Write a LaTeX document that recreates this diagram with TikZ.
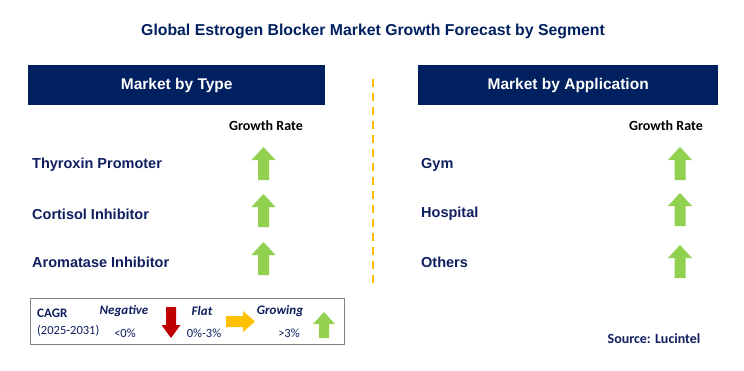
\documentclass[tikz,border=0pt]{standalone}
\usepackage{fontspec}
\setmainfont{Liberation Sans}
\newfontfamily\calib{Carlito}
\definecolor{navy}{HTML}{002060}
\definecolor{txtnavy}{HTML}{0F1F5F}
\definecolor{grn}{HTML}{92D050}
\definecolor{redarr}{HTML}{C00000}
\definecolor{yel}{HTML}{FFC000}
\definecolor{bordergray}{HTML}{808080}
% up arrow: color, cx, top, bottom, half head, half shaft, head length
\newcommand\arrUp[7]{\fill[#1] (#2-#6,#4) -- (#2-#6,#3+#7) -- (#2-#5,#3+#7) -- (#2,#3) -- (#2+#5,#3+#7) -- (#2+#6,#3+#7) -- (#2+#6,#4) -- cycle;}
\newcommand\arrDown[7]{\fill[#1] (#2-#6,#3) -- (#2+#6,#3) -- (#2+#6,#4-#7) -- (#2+#5,#4-#7) -- (#2,#4) -- (#2-#5,#4-#7) -- (#2-#6,#4-#7) -- cycle;}
% right arrow: color, left, right, cy, half head, half shaft, head length
\newcommand\arrRight[7]{\fill[#1] (#2,#4-#6) -- (#3-#7,#4-#6) -- (#3-#7,#4-#5) -- (#3,#4) -- (#3-#7,#4+#5) -- (#3-#7,#4+#6) -- (#2,#4+#6) -- cycle;}
\begin{document}
\begin{tikzpicture}[x=1pt,y=-1pt,
 hdr/.style={fill=navy, text=white, font=\fontsize{15.5}{18}\selectfont\bfseries, minimum width=297pt, minimum height=40pt, inner sep=0pt, anchor=north west},
 item/.style={anchor=west, text=txtnavy, font=\fontsize{14.5}{17}\selectfont\bfseries, inner sep=0pt},
 grate/.style={font=\calib\fontsize{14}{17}\selectfont\bfseries, text=black, inner sep=0pt},
 lgb/.style={font=\calib\fontsize{13}{15}\selectfont\bfseries, text=txtnavy, inner sep=0pt},
 lgbi/.style={font=\calib\fontsize{13}{15}\selectfont\bfseries\itshape, text=txtnavy, inner sep=0pt},
 lgr/.style={font=\calib\fontsize{12.5}{15}\selectfont, text=txtnavy, inner sep=0pt}
]
\useasboundingbox (0,0) rectangle (744,370);
\fill[white] (0,0) rectangle (744,370);

\node[text=navy, font=\fontsize{15.8}{18}\selectfont\bfseries, inner sep=0pt] (title) at (373,31.5) {Global Estrogen Blocker Market Growth Forecast by Segment};

\node[hdr] (h1) at (28,65) {Market by Type};
\node[hdr, minimum width=300pt] (h2) at (418,65) {Market by Application};

\draw[yel, line width=2pt, dash pattern=on 8pt off 6pt] (373,79) -- (373,284);

\node[grate] (g1) at (266,126) {Growth Rate};
\node[grate] (g2) at (666,126) {Growth Rate};

\node[item] (t1) at (32,165) {Thyroxin Promoter};
\node[item] (t2) at (32,214) {Cortisol Inhibitor};
\node[item] (t3) at (32,262) {Aromatase Inhibitor};
\node[item] (a1) at (421,165) {Gym};
\node[item] (a2) at (421,214) {Hospital};
\node[item] (a3) at (421,262) {Others};

\arrUp{grn}{263.5}{147}{180}{12}{5.5}{13}
\arrUp{grn}{263.5}{194}{227}{12}{5.5}{13}
\arrUp{grn}{263.5}{242}{275}{12}{5.5}{13}
\arrUp{grn}{680}{147}{180}{12}{5.5}{13}
\arrUp{grn}{680}{193}{226}{12}{5.5}{13}
\arrUp{grn}{680}{245}{278}{12}{5.5}{13}

% legend
\draw[bordergray, line width=1pt] (30,298) rectangle (344,344);
\node[lgb, anchor=west] (cagr) at (37,313) {CAGR};
\node[lgr, anchor=west] (yrs) at (37,331) {(2025-2031)};
\node[lgbi] (neg) at (124,311) {Negative};
\node[lgr] (negv) at (125,333) {<0\%};
\arrDown{redarr}{171}{307}{338}{9.5}{5}{13}
\node[lgbi] (flat) at (202,311) {Flat};
\node[lgr] (flatv) at (204,333) {0\%-3\%};
\arrRight{yel}{226}{255}{321.5}{10.5}{5.5}{12}
\node[lgbi] (grow) at (280,311) {Growing};
\node[lgr] (growv) at (289,333) {>3\%};
\arrUp{grn}{324}{312}{338}{11}{5}{12}

\node[font=\calib\fontsize{14}{17}\selectfont\bfseries, text=txtnavy, inner sep=0pt] (src) at (654,339) {Source: Lucintel};
\end{tikzpicture}
\end{document}
